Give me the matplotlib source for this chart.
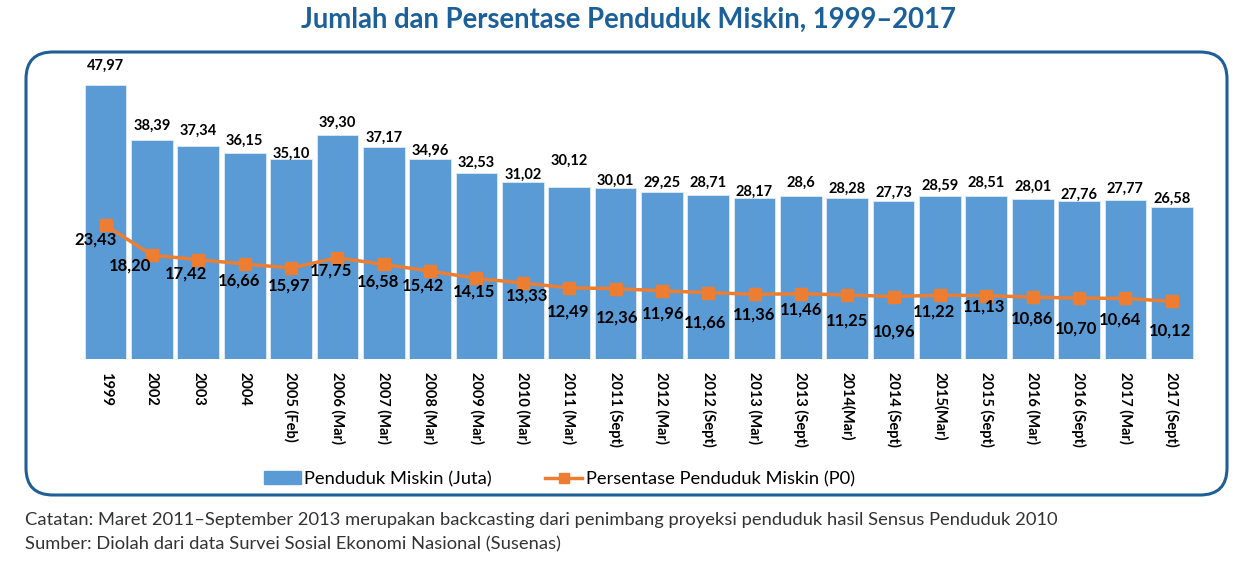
import matplotlib
matplotlib.use('Agg')
import matplotlib.pyplot as plt
from matplotlib.patches import FancyBboxPatch, Patch
from matplotlib.lines import Line2D
import numpy as np

plt.rcParams['font.family'] = ['Lato', 'DejaVu Sans']

periode = ['1999', '2002', '2003', '2004', '2005 (Feb)', '2006 (Mar)', '2007 (Mar)',
           '2008 (Mar)', '2009 (Mar)', '2010 (Mar)', '2011 (Mar)', '2011 (Sept)',
           '2012 (Mar)', '2012 (Sept)', '2013 (Mar)', '2013 (Sept)', '2014(Mar)',
           '2014 (Sept)', '2015(Mar)', '2015 (Sept)', '2016 (Mar)', '2016 (Sept)',
           '2017 (Mar)', '2017 (Sept)']
jumlah = [47.97, 38.39, 37.34, 36.15, 35.10, 39.30, 37.17, 34.96, 32.53, 31.02, 30.12, 30.01,
          29.25, 28.71, 28.17, 28.6, 28.28, 27.73, 28.59, 28.51, 28.01, 27.76, 27.77, 26.58]
jumlah_txt = ['47,97', '38,39', '37,34', '36,15', '35,10', '39,30', '37,17', '34,96', '32,53',
              '31,02', '30,12', '30,01', '29,25', '28,71', '28,17', '28,6', '28,28', '27,73',
              '28,59', '28,51', '28,01', '27,76', '27,77', '26,58']
persen = [23.43, 18.20, 17.42, 16.66, 15.97, 17.75, 16.58, 15.42, 14.15, 13.33, 12.49, 12.36,
          11.96, 11.66, 11.36, 11.46, 11.25, 10.96, 11.22, 11.13, 10.86, 10.70, 10.64, 10.12]

# letak label (piksel), meniru posisi di gambar asli
bar_dy = [19, 14, 15, 12, 5, 12, 9, 9, 10, 7, 26, 7, 9, 12, 6, 13, 9, 8, 10, 13, 12, 6, 12, 8]
line_dx = [-10, -22, -12, -6, -2, -6, -6, -7, -2, 4, -1, 2, 1, -3, -1, 0, 0, 0, -6, -2, -1, -3, -5, -2]
line_dy = [14, 10, 14, 17, 18, 13, 17, 14, 13, 12, 24, 29, 23, 30, 20, 16, 26, 35, 16, 11, 21, 30, 21, 29]

biru = '#5b9bd5'
oranye = '#ed7d31'
judul_warna = '#1b6099'

fig = plt.figure(figsize=(12.57, 5.73), dpi=100, facecolor='white')

# kotak bingkai bulat
kotak = FancyBboxPatch((0.26, 0.78), 12.01, 4.43, boxstyle='round,pad=0,rounding_size=0.27',
                       transform=fig.dpi_scale_trans, facecolor='white',
                       edgecolor='#1f5f96', linewidth=2.2, zorder=-1)
fig.patches.append(kotak)

ax = fig.add_axes([0.0656, 0.373, 0.885, 0.499])
ax.set_zorder(1)
ax.patch.set_alpha(0)
x = np.arange(len(periode))
ax.bar(x, jumlah, width=0.9, color=biru, edgecolor='#dfeaf6', linewidth=0.6, zorder=2)
ax.plot(x, persen, color=oranye, linewidth=2.5, marker='s', markersize=9, zorder=3)

for i in range(len(x)):
    ax.annotate(jumlah_txt[i], (x[i], jumlah[i]), xytext=(0, bar_dy[i]),
                textcoords='offset pixels', ha='center', va='center',
                fontsize=10.5, fontweight='bold', color='black', zorder=4)
    ax.annotate(('%.2f' % persen[i]).replace('.', ','), (x[i], persen[i]),
                xytext=(line_dx[i], -line_dy[i]), textcoords='offset pixels',
                ha='center', va='center', fontsize=12, fontweight='bold',
                color='black', zorder=4)

ax.set_xlim(-0.5, len(x) - 0.5)
ax.set_ylim(0, 50)
ax.set_yticks([])
for s in ax.spines.values():
    s.set_visible(False)
ax.set_xticks(x)
ax.set_xticklabels(periode, rotation=270, fontsize=10.5, fontweight='bold', va='top')
ax.tick_params(axis='x', length=0, pad=9)

handles = [Patch(facecolor=biru, edgecolor=biru),
           Line2D([0], [0], color=oranye, linewidth=2.5, marker='s', markersize=7)]
fig.legend(handles, ['Penduduk Miskin (Juta)', 'Persentase Penduduk Miskin (P0)'],
           loc='center', bbox_to_anchor=(0.445, 0.164), ncol=2, frameon=False,
           fontsize=13.2, handlelength=2.0, handletextpad=0.2, columnspacing=2.9)

fig.text(0.5, 0.966, 'Jumlah dan Persentase Penduduk Miskin, 1999\u20132017',
         ha='center', va='center', fontsize=19.8, fontweight='bold', color=judul_warna)
fig.text(0.02, 0.0925, 'Catatan: Maret 2011\u2013September 2013 merupakan backcasting dari penimbang '
         'proyeksi penduduk hasil Sensus Penduduk 2010', ha='left', va='center',
         fontsize=13.2, color='#333333')
fig.text(0.02, 0.0506, 'Sumber: Diolah dari data Survei Sosial Ekonomi Nasional (Susenas)',
         ha='left', va='center', fontsize=13.2, color='#333333')

fig.savefig('out.png', dpi=100, facecolor='white')
